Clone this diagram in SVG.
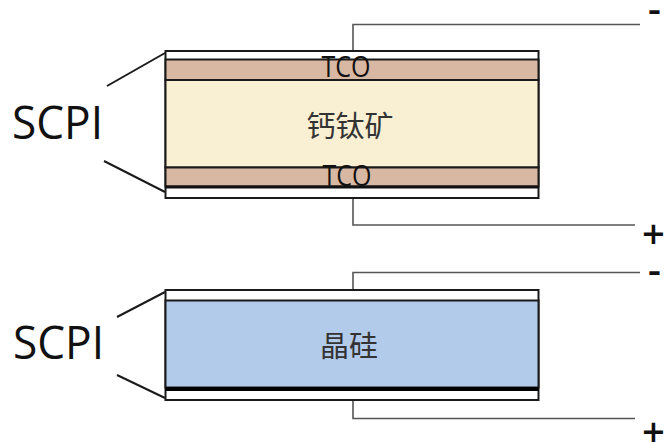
<svg xmlns="http://www.w3.org/2000/svg" width="665" height="443" viewBox="0 0 665 443">
<style>
.frame{stroke:#1a1a1a;stroke-width:2}
.wire{fill:none;stroke:#555;stroke-width:1.6}
.brace{fill:none;stroke:#1a1a1a;stroke-width:2}
.scpi{font-family:"Open Sans","Noto Sans",sans-serif;font-size:46px;fill:#111}
.tco{font-family:"Open Sans","Noto Sans",sans-serif;font-size:30px;fill:#111;text-anchor:middle}
.cjk{font-family:"Noto Sans CJK SC","Noto Sans",sans-serif;font-size:29px;fill:#333;text-anchor:middle}
.sign{font-family:"Open Sans","Noto Sans",sans-serif;font-size:40px;font-weight:600;fill:#111}
</style>
<rect width="665" height="443" fill="#fff"/>
<g id="connectors">
  <polyline class="wire" points="353,51 353,24.5 640,24.5"/>
  <polyline class="wire" points="353,198 353,225 635,225"/>
  <polyline class="wire" points="353,300 353,272.5 640,272.5"/>
  <polyline class="wire" points="353,388 353,418.5 635,418.5"/>
  <line class="brace" x1="107" y1="86" x2="165" y2="53"/>
  <line class="brace" x1="104" y1="161" x2="165" y2="192"/>
  <line class="brace" x1="117" y1="317" x2="165" y2="292"/>
  <line class="brace" x1="117" y1="375" x2="165" y2="398"/>
</g>
<g id="perovskite-cell">
  <rect class="frame" x="165.5" y="51" width="373" height="147" fill="#fff"/>
  <rect class="frame" x="165.5" y="59.5" width="373" height="20.5" fill="#D9B8A3"/>
  <rect class="frame" x="165.5" y="80" width="373" height="87.5" fill="#F9F0D3"/>
  <rect class="frame" x="165.5" y="167.5" width="373" height="19" fill="#D9B8A3"/>
  <line x1="165.5" y1="187" x2="538.5" y2="187" stroke="#111" stroke-width="3"/>
  <text class="tco" x="346" y="77" textLength="49" lengthAdjust="spacingAndGlyphs">TCO</text>
  <text class="tco" x="347" y="186" textLength="49" lengthAdjust="spacingAndGlyphs">TCO</text>
  <text class="cjk" x="350" y="137">钙钛矿</text>
</g>
<g id="silicon-cell">
  <rect class="frame" x="165.5" y="290" width="373" height="110" fill="#fff"/>
  <rect class="frame" x="165.5" y="300.5" width="373" height="87" fill="#B3CBEA"/>
  <line x1="165.5" y1="389" x2="538.5" y2="389" stroke="#000" stroke-width="4"/>
  <text class="cjk" x="349" y="357">晶硅</text>
</g>
<g id="labels">
  <text class="scpi" x="12" y="139" textLength="91" lengthAdjust="spacingAndGlyphs">SCPI</text>
  <text class="scpi" x="13" y="359" textLength="91" lengthAdjust="spacingAndGlyphs">SCPI</text>
  <text class="sign" x="648" y="23">-</text>
  <text class="sign" x="642" y="248">+</text>
  <text class="sign" x="648" y="284">-</text>
  <text class="sign" x="642" y="446">+</text>
</g>
</svg>
